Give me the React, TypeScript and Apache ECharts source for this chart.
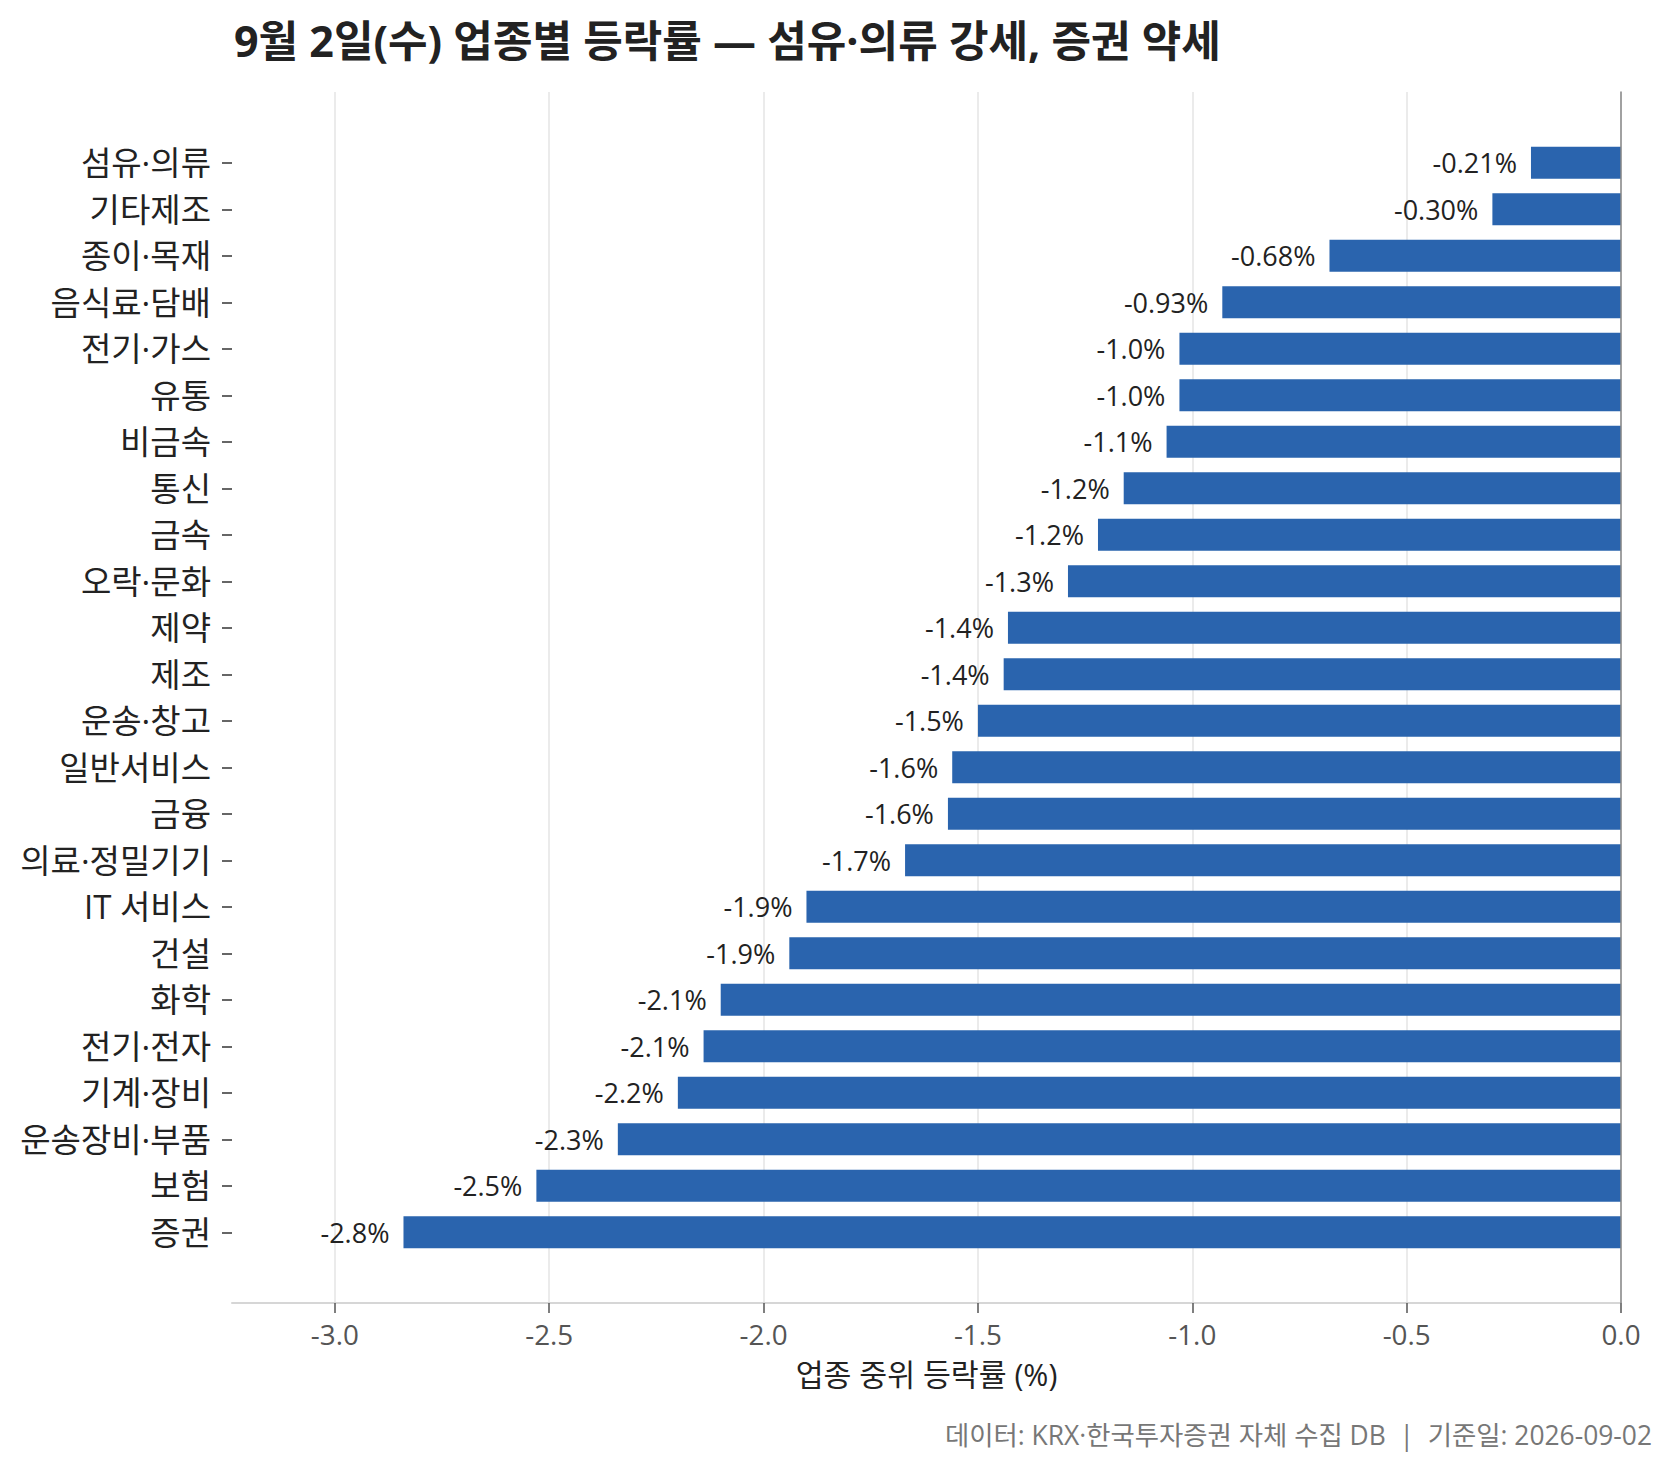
import React, { useEffect, useRef } from "react";
import * as echarts from "echarts";

const categories = [
  "섬유·의류", "기타제조", "종이·목재", "음식료·담배", "전기·가스", "유통",
  "비금속", "통신", "금속", "오락·문화", "제약", "제조",
  "운송·창고", "일반서비스", "금융", "의료·정밀기기", "IT 서비스", "건설",
  "화학", "전기·전자", "기계·장비", "운송장비·부품", "보험", "증권",
];
const values = [
  -0.21, -0.30, -0.68, -0.93, -1.03, -1.03,
  -1.06, -1.16, -1.22, -1.29, -1.43, -1.44,
  -1.50, -1.56, -1.57, -1.67, -1.90, -1.94,
  -2.10, -2.14, -2.20, -2.34, -2.53, -2.84,
];
const xTicks = [-3.0, -2.5, -2.0, -1.5, -1.0, -0.5, 0.0];
const xMin = -3.24;
const xMax = 0;

const titleText = "9월 2일(수) 업종별 등락률 — 섬유·의류 강세, 증권 약세";
const xAxisName = "업종 중위 등락률 (%)";
const footerText = "데이터: KRX·한국투자증권 자체 수집 DB  |  기준일: 2026-09-02";

const FONT = "'Open Sans', 'Noto Sans CJK KR', sans-serif";

export default function App() {
  const ref = useRef<HTMLDivElement>(null);
  useEffect(() => {
    document.body.style.margin = "0";
    if (!ref.current) return;
    const chart = echarts.init(ref.current, undefined, { renderer: "svg" });
    const fmtVal = (v: number) =>
      (Math.abs(v) < 1 ? v.toFixed(2) : v.toFixed(1)) + "%";
    chart.setOption({
      animation: false,
      backgroundColor: "#ffffff",
      textStyle: { fontFamily: FONT },
      title: {
        text: titleText,
        left: 229,
        top: 14,
        textStyle: { fontSize: 43, fontWeight: "bold", color: "#222222", fontFamily: FONT },
      },
      grid: [
        { left: 232, right: 52, top: 92, bottom: 168 },
        { left: 232, right: 52, top: 139.5, bottom: 215.5 },
      ],
      xAxis: [
        {
          gridIndex: 0,
          type: "value",
          min: xMin,
          max: xMax,
          axisLine: { show: true, onZero: false, lineStyle: { color: "#d6d6d6", width: 2 } },
          axisTick: { show: true, length: 10, customValues: xTicks, lineStyle: { color: "#555555", width: 1.5 } },
          axisLabel: {
            customValues: xTicks,
            formatter: (v: number) => v.toFixed(1),
            fontSize: 27.8,
            color: "#555555",
            margin: 17,
          },
          splitLine: { show: true, lineStyle: { color: "#e5e5e5", width: 1.5 } },
          name: xAxisName,
          nameLocation: "middle",
          nameGap: 56,
          nameTextStyle: { fontSize: 30.3, color: "#222222" },
        },
        {
          gridIndex: 1,
          type: "value",
          min: xMin,
          max: xMax,
          show: false,
        },
      ],
      yAxis: [
        {
          gridIndex: 0,
          type: "value",
          position: "right",
          min: 0,
          max: 1,
          z: 10,
          axisLine: { show: true, onZero: false, lineStyle: { color: "#888888", width: 1.5 } },
          axisTick: { show: false },
          axisLabel: { show: false },
          splitLine: { show: false },
        },
        {
          gridIndex: 1,
          type: "category",
          data: categories,
          inverse: true,
          position: "left",
          axisLine: { show: true, onZero: false, lineStyle: { color: "rgba(0,0,0,0)", width: 0 } },
          axisTick: {
            show: true,
            alignWithLabel: true,
            inside: false,
            length: 10,
            lineStyle: { color: "#333333", width: 1.5 },
          },
          axisLabel: { fontSize: 33, color: "#222222", margin: 21 },
          splitLine: { show: false },
        },
      ],
      series: [
        {
          type: "bar",
          xAxisIndex: 1,
          yAxisIndex: 1,
          data: values,
          barWidth: 32,
          itemStyle: { color: "#2a64ae" },
          label: {
            show: true,
            position: "left",
            distance: 14,
            fontSize: 27,
            color: "#222222",
            formatter: (p: any) => fmtVal(p.value),
          },
        },
      ],
      graphic: [
        {
          type: "text",
          right: 21,
          top: 1422,
          style: { text: footerText, fontSize: 26.4, fill: "#777777", fontFamily: FONT },
        },
      ],
    });
    return () => chart.dispose();
  }, []);
  return <div ref={ref} style={{ width: 1673, height: 1471 }} />;
}
